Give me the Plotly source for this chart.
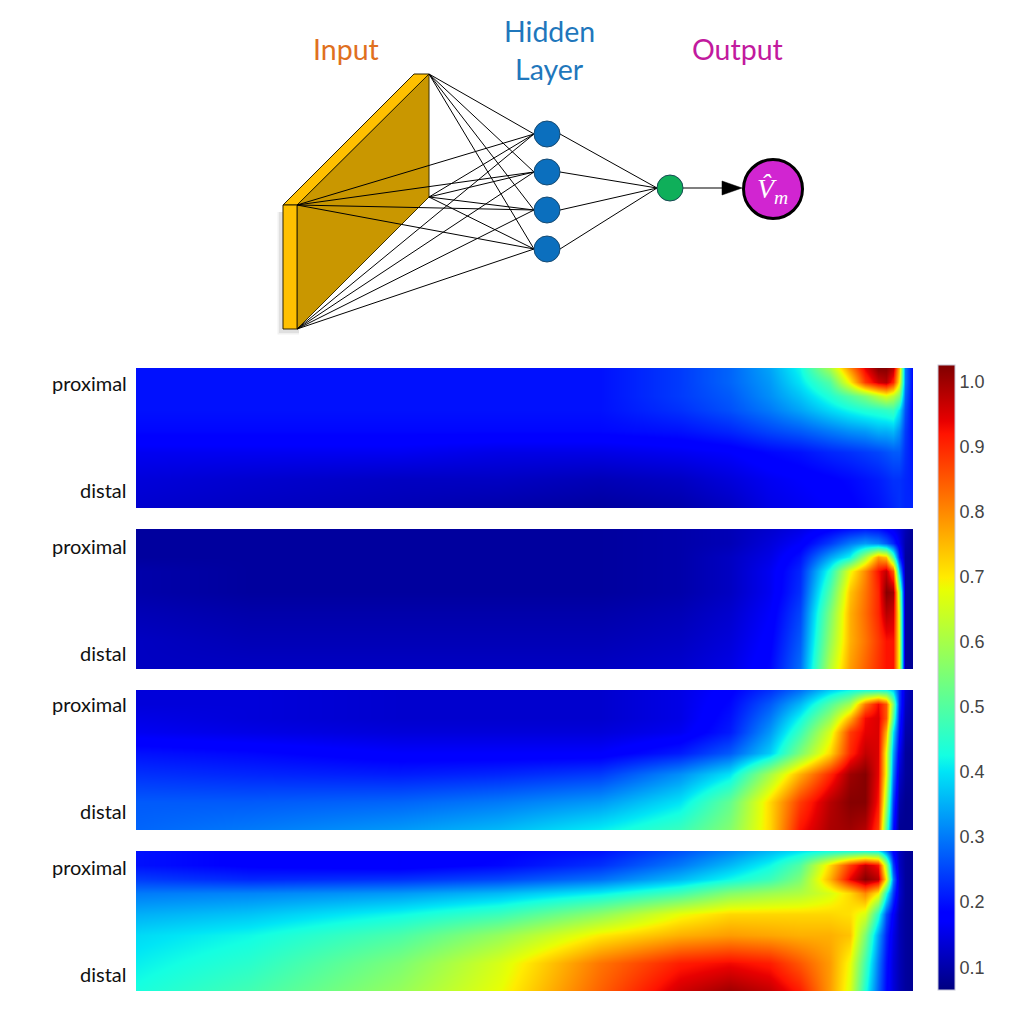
import plotly.graph_objects as go

# ---------- heatmap data ----------
column_positions = [136, 250, 400, 500, 600, 680, 730, 770, 800, 830, 850, 865, 878, 886, 893, 899, 905, 913]
row_positions = [0, 14, 28, 42, 63, 84, 112, 140]

panel_1 = [
    [.20, .20, .20, .20, .20, .24, .28, .34, .42, .60, .80, .94, 1.02, 1.02, .98, .75, .30, .18],
    [.20, .20, .20, .20, .20, .24, .28, .33, .40, .50, .70, .88, .96, .98, .90, .70, .30, .18],
    [.20, .20, .20, .20, .20, .24, .27, .32, .37, .44, .50, .55, .62, .66, .62, .55, .28, .18],
    [.20, .20, .20, .20, .20, .23, .26, .30, .34, .39, .42, .44, .45, .46, .47, .40, .26, .18],
    [.19, .19, .19, .19, .19, .20, .22, .25, .27, .30, .32, .33, .35, .35, .36, .32, .24, .19],
    [.16, .16, .16, .15, .15, .16, .17, .19, .20, .22, .23, .24, .25, .26, .27, .27, .23, .20],
    [.14, .13, .12, .12, .11, .12, .14, .16, .17, .18, .19, .20, .21, .22, .23, .23, .22, .21],
    [.13, .12, .11, .10, .09, .10, .12, .15, .16, .17, .18, .19, .20, .21, .22, .23, .22, .22],
]
panel_2 = [
    [.09, .09, .09, .09, .09, .10, .11, .13, .15, .18, .20, .21, .20, .18, .16, .14, .11, .08],
    [.09, .09, .09, .09, .09, .10, .11, .14, .17, .24, .30, .33, .31, .27, .22, .16, .10, .08],
    [.09, .09, .09, .09, .09, .10, .12, .15, .20, .34, .42, .60, .78, .74, .50, .22, .09, .08],
    [.10, .09, .09, .09, .09, .10, .12, .16, .22, .44, .68, .80, .92, .97, .85, .38, .09, .08],
    [.10, .09, .09, .09, .09, .10, .12, .16, .23, .50, .74, .82, .90, 1.02, 1.0, .60, .09, .08],
    [.11, .10, .10, .10, .10, .11, .13, .17, .25, .55, .76, .83, .90, .98, .96, .66, .09, .08],
    [.12, .11, .11, .11, .11, .12, .14, .18, .27, .58, .76, .82, .88, .92, .92, .68, .09, .08],
    [.12, .12, .12, .12, .12, .13, .15, .19, .29, .62, .78, .84, .89, .92, .92, .68, .09, .08],
]
panel_3 = [
    [.14, .14, .13, .13, .13, .15, .18, .23, .29, .38, .42, .44, .44, .43, .38, .24, .13, .09],
    [.14, .14, .13, .13, .13, .15, .19, .27, .36, .50, .60, .82, .93, .85, .55, .24, .12, .09],
    [.15, .14, .13, .13, .13, .15, .20, .30, .42, .58, .76, .93, .95, .85, .50, .22, .11, .09],
    [.16, .15, .14, .14, .14, .16, .21, .33, .47, .66, .88, .94, .95, .76, .40, .20, .10, .09],
    [.20, .19, .17, .17, .17, .21, .27, .38, .55, .72, .90, .97, .95, .68, .34, .16, .09, .08],
    [.23, .22, .21, .22, .24, .32, .40, .60, .76, .90, 1.0, 1.02, .94, .68, .30, .13, .09, .08],
    [.27, .27, .28, .30, .33, .40, .52, .72, .88, .98, 1.02, 1.02, .92, .60, .24, .10, .08, .08],
    [.28, .30, .33, .36, .41, .47, .56, .72, .92, .99, 1.0, .98, .88, .50, .20, .08, .08, .08],
]
panel_4 = [
    [.20, .18, .17, .18, .20, .26, .31, .36, .40, .43, .44, .44, .42, .30, .18, .12, .09, .08],
    [.20, .18, .17, .19, .23, .30, .36, .42, .50, .72, .88, .97, .92, .60, .24, .12, .09, .08],
    [.24, .22, .23, .25, .29, .36, .42, .47, .55, .76, .94, 1.02, .98, .70, .30, .13, .09, .08],
    [.30, .31, .33, .36, .41, .48, .56, .59, .61, .66, .72, .80, .70, .44, .24, .13, .09, .08],
    [.35, .37, .42, .47, .57, .68, .72, .72, .72, .72, .71, .66, .45, .26, .17, .11, .09, .08],
    [.39, .42, .49, .58, .70, .76, .78, .77, .76, .76, .74, .55, .34, .22, .15, .11, .09, .08],
    [.41, .45, .55, .66, .82, .91, .93, .91, .85, .78, .68, .48, .30, .20, .14, .11, .09, .08],
    [.43, .48, .58, .68, .84, .96, 1.0, .97, .91, .78, .66, .44, .28, .19, .14, .11, .09, .08],
]
panels = [panel_1, panel_2, panel_3, panel_4]
panel_tops = [368, 529, 690, 851]
panel_height = 140
panel_left, panel_right = 136, 913
proximal_y = [383, 546, 704, 867]
distal_y = [490, 653, 811, 974]

colorbar_ticks = [.1, .2, .3, .4, .5, .6, .7, .8, .9, 1.0]
colorbar_labels = ["0.1", "0.2", "0.3", "0.4", "0.5", "0.6", "0.7", "0.8", "0.9", "1.0"]

jet = [
    [0, "rgb(0,0,128)"], [.11, "rgb(0,0,255)"], [.125, "rgb(0,0,255)"],
    [.35, "rgb(0,229,246)"], [.375, "rgb(20,255,226)"], [.64, "rgb(232,255,3)"],
    [.66, "rgb(255,236,0)"], [.89, "rgb(255,19,0)"], [.91, "rgb(232,0,0)"],
    [1, "rgb(128,0,0)"],
]

# ---------- network diagram (figure pixels) ----------
W, H = 1009, 1023
input_corners_x = [429, 429, 297, 297]
input_corners_y = [74, 197, 205, 329]
hidden_x = 547
hidden_y = [134, 172, 210, 249]
node_radius = 13
output_node = (670, 188)
vm_node = (773, 189)

fig = go.Figure()
bg = dict(xaxis="x", yaxis="y", hoverinfo="skip", showlegend=False)


def poly(xs, ys, fill, line="#000000", width=1):
    fig.add_trace(go.Scatter(x=xs, y=ys, mode="lines", fill="toself", fillcolor=fill,
                             line=dict(color=line, width=width), **bg))


for shadow_width, shadow_alpha in ((7, 0.07), (4, 0.09)):
    fig.add_trace(go.Scatter(x=[281, 281, 299], y=[212, 331, 331], mode="lines",
                             line=dict(color=f"rgba(60,60,60,{shadow_alpha})", width=shadow_width), **bg))
poly([429, 429, 297, 297, 429], [74, 197, 329, 205, 74], "#C99700", "#3d3000", 1)
poly([283, 414, 429, 297, 283], [205, 74, 74, 205, 205], "#FFC000", "#2a2000", 1)
poly([283, 297, 297, 283, 283], [205, 205, 329, 329, 205], "#FFC000", "#2a2000", 1)

for cx, cy in zip(input_corners_x, input_corners_y):
    for hy in hidden_y:
        fig.add_trace(go.Scatter(x=[cx, hidden_x - node_radius], y=[cy, hy], mode="lines",
                                 line=dict(color="#000000", width=1), **bg))
for hy in hidden_y:
    fig.add_trace(go.Scatter(x=[hidden_x + node_radius, output_node[0] - node_radius],
                             y=[hy, output_node[1]], mode="lines",
                             line=dict(color="#000000", width=1), **bg))
fig.add_trace(go.Scatter(x=[output_node[0] + node_radius, 724], y=[188, 188], mode="lines",
                         line=dict(color="#000000", width=1.2), **bg))
poly([722, 742, 722, 722], [181, 188, 195, 181], "#000000", "#000000", 0.5)
fig.add_trace(go.Scatter(x=[hidden_x] * 4, y=hidden_y, mode="markers",
                         marker=dict(size=26, color="#0B6FBE", line=dict(color="#164a72", width=1)), **bg))
fig.add_trace(go.Scatter(x=[output_node[0]], y=[output_node[1]], mode="markers",
                         marker=dict(size=26, color="#0FAF5A", line=dict(color="#164a52", width=1)), **bg))
fig.add_trace(go.Scatter(x=[vm_node[0]], y=[vm_node[1]], mode="markers",
                         marker=dict(size=59, color="#D125D1", line=dict(color="#000000", width=3)), **bg))

# ---------- heatmaps ----------
layout_axes = {}
annotations = []
for i, (z, top) in enumerate(zip(panels, panel_tops)):
    n = i + 2
    fig.add_trace(go.Heatmap(x=column_positions, y=row_positions, z=z, coloraxis="coloraxis",
                             zsmooth="best", xaxis=f"x{n}", yaxis=f"y{n}", hoverinfo="skip"))
    layout_axes[f"xaxis{n}"] = dict(domain=[panel_left / W, panel_right / W], range=[panel_left, panel_right],
                                    visible=False, anchor=f"y{n}")
    layout_axes[f"yaxis{n}"] = dict(domain=[1 - (top + panel_height) / H, 1 - top / H],
                                    range=[panel_height, 0], visible=False, anchor=f"x{n}")
    for label, yy in (("proximal", proximal_y[i]), ("distal", distal_y[i])):
        annotations.append(dict(x=129, y=yy, xref="x", yref="y", text=label, showarrow=False,
                                xanchor="right", yanchor="middle",
                                font=dict(family="Lato", size=20, color="#111111")))

titles = [("Input", 346, 49, "#E0701E"), ("Hidden", 549, 31, "#1F77BC"),
          ("Layer", 549, 69, "#1F77BC"), ("Output", 737, 49, "#C21A9E")]
for text, x, y, color in titles:
    annotations.append(dict(x=x, y=y, xref="x", yref="y", text=text, showarrow=False,
                            font=dict(family="Lato", size=28.5, color=color)))
annotations.append(dict(x=772, y=190, xref="x", yref="y", text="<i>V\u0302<sub>m</sub></i>", showarrow=False,
                        font=dict(family="Liberation Serif", size=28, color="#ffffff")))

fig.update_layout(
    width=W, height=H, margin=dict(l=0, r=0, t=0, b=0), paper_bgcolor="white", plot_bgcolor="rgba(0,0,0,0)",
    xaxis=dict(domain=[0, 1], range=[0, W], visible=False, fixedrange=True),
    yaxis=dict(domain=[0, 1], range=[H, 0], visible=False, fixedrange=True),
    coloraxis=dict(
        colorscale=jet, cmin=0.065, cmax=1.025,
        colorbar=dict(
            x=938 / W, xanchor="left", y=1 - 365 / H, yanchor="top", lenmode="pixels", len=625,
            thicknessmode="pixels", thickness=17, xpad=0, ypad=0, outlinewidth=1, outlinecolor="#c8c8d8",
            tickvals=colorbar_ticks, ticktext=colorbar_labels, ticks="", ticklabelposition="outside",
            tickfont=dict(family="Liberation Sans", size=18, color="#444444"),
        ),
    ),
    annotations=annotations,
    **layout_axes,
)

fig.write_html("out.html", config={"displayModeBar": False},
               post_script="document.body.style.margin='0';document.body.style.overflow='hidden';")
